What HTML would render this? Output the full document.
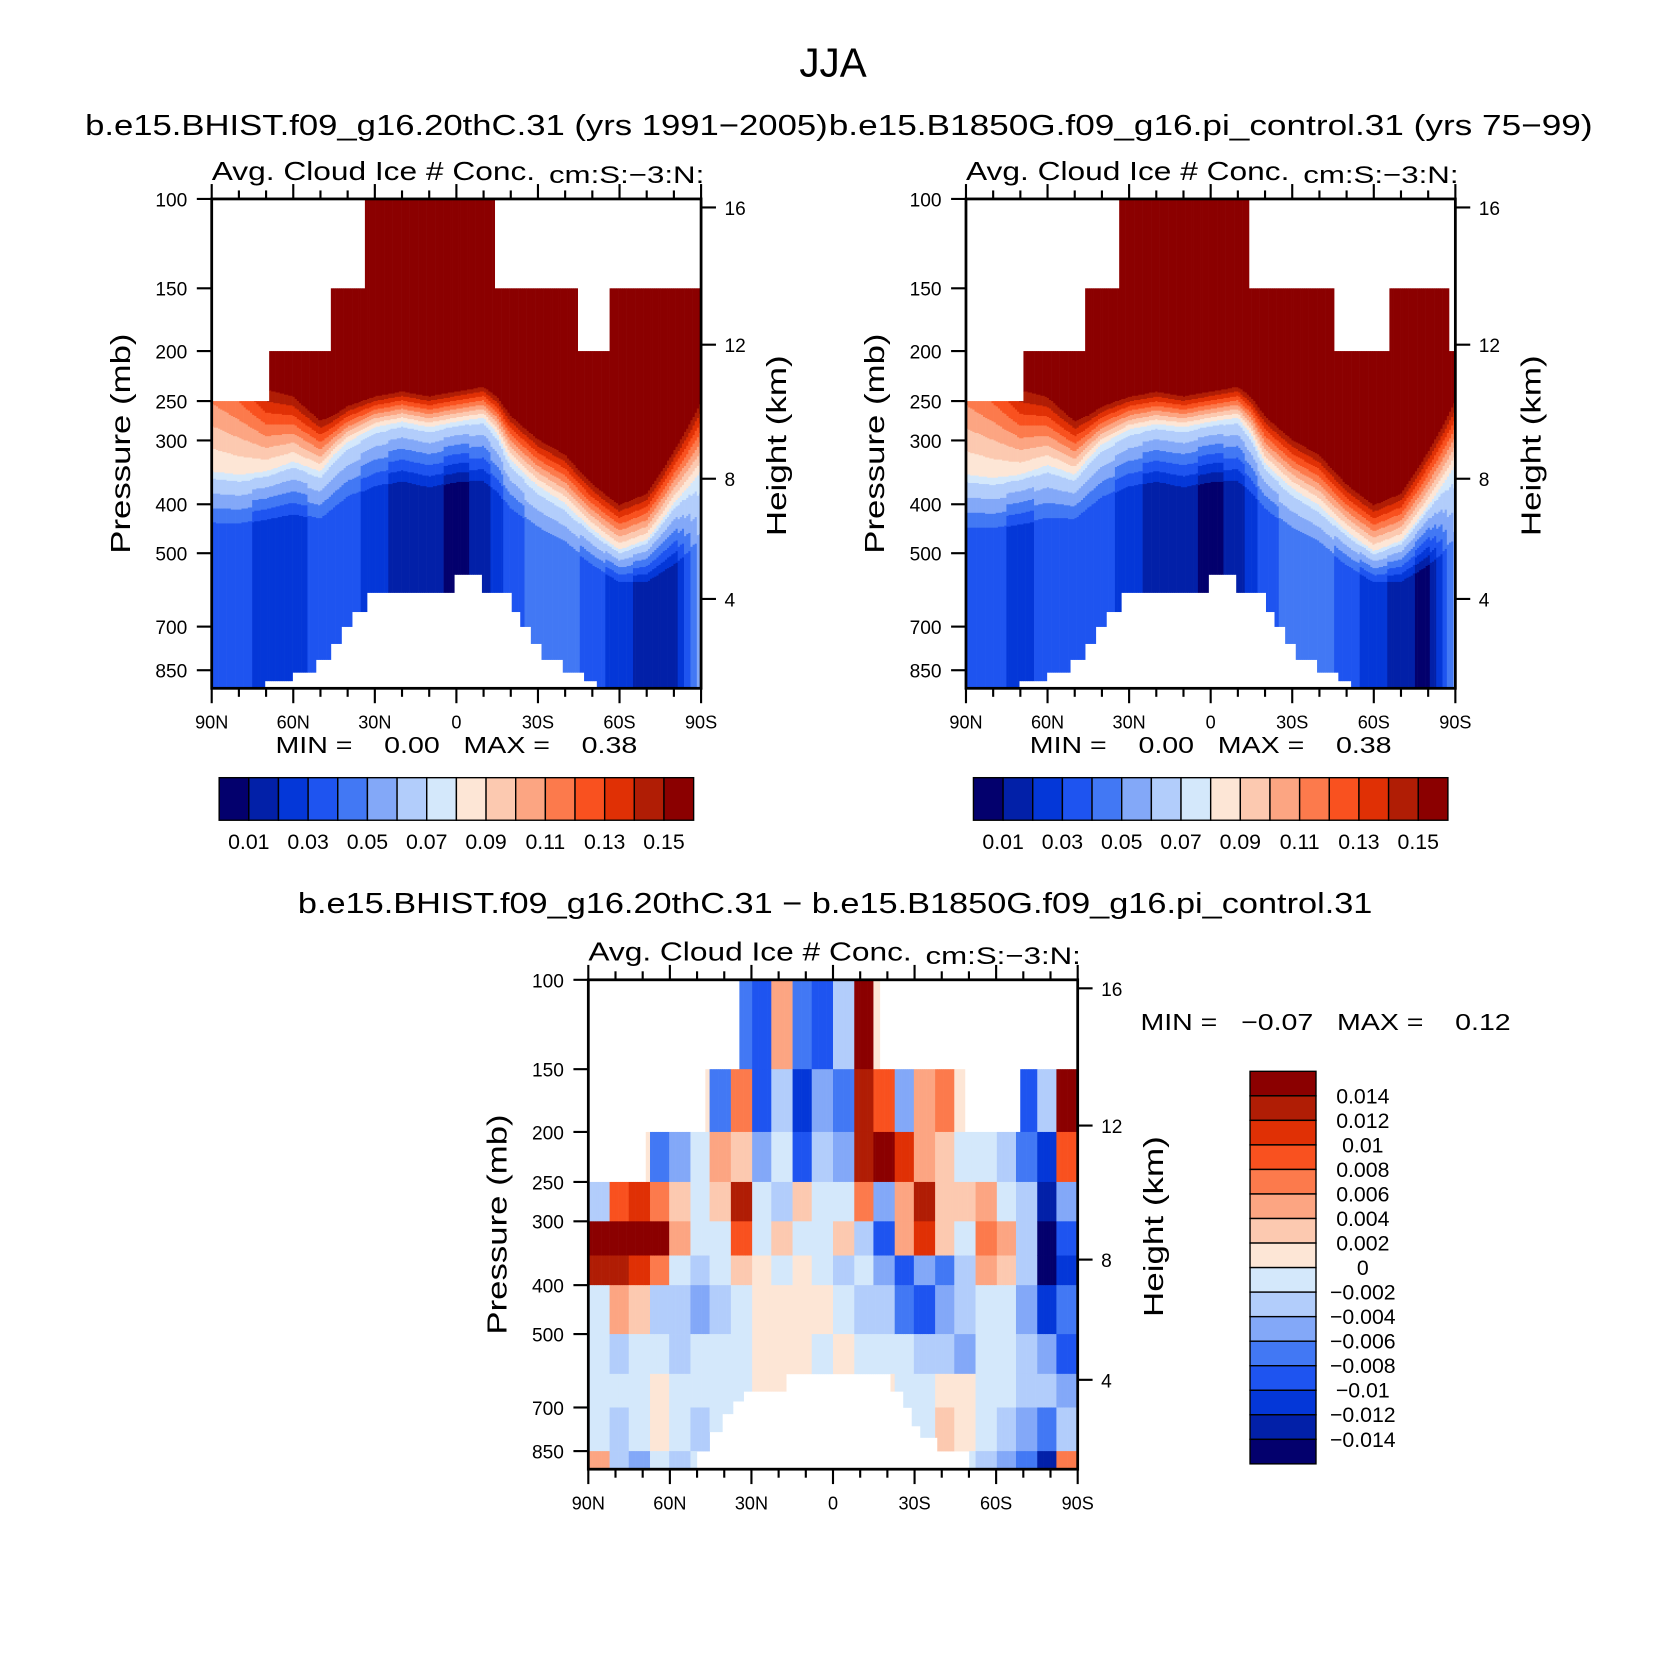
<!DOCTYPE html>
<html><head><meta charset="utf-8"><style>
html,body{margin:0;padding:0;background:#fff}
svg{display:block}
text{font-family:"Liberation Sans",sans-serif;fill:#000}
.pre{white-space:pre}
</style></head><body>
<svg id="root" width="1666" height="1666" viewBox="0 0 1566 1566" xmlns="http://www.w3.org/2000/svg">
<rect x="0" y="0" width="1566" height="1566" fill="#fff"/>
<text x="783" y="72" font-size="38" text-anchor="middle">JJA</text>
<text x="80" y="127" font-size="27" textLength="698" lengthAdjust="spacingAndGlyphs">b.e15.BHIST.f09_g16.20thC.31 (yrs 1991−2005)</text>
<text x="779" y="127" font-size="27" textLength="718" lengthAdjust="spacingAndGlyphs">b.e15.B1850G.f09_g16.pi_control.31 (yrs 75−99)</text>
<text x="280" y="858" font-size="27" textLength="1010" lengthAdjust="spacingAndGlyphs">b.e15.BHIST.f09_g16.20thC.31 − b.e15.B1850G.f09_g16.pi_control.31</text>
<g id="panels"></g>
</svg>
<script>
// ---- shared axis data ----
const pTicks=[100,150,200,250,300,400,500,700,850];
const latTicks=[90,60,30,0,-30,-60,-90];
const latLabels=['90N','60N','30N','0','30S','60S','90S'];
const hTicks=[16,12,8,4];
const topLevelLabels=['0.01','0.03','0.05','0.07','0.09','0.11','0.13','0.15'];
const diffLevelLabels=['0.014','0.012','0.01','0.008','0.006','0.004','0.002','0','−0.002','−0.004','−0.006','−0.008','−0.01','−0.012','−0.014'];
const palette=['#03006d','#0220a8','#0437d8','#1e54f0','#4278f4','#83a8f8','#b2cdfb','#d4e8fb','#fde6d6','#fcc9b0','#fca582','#fc7a4c','#f9511f','#e03005','#b01d05','#8b0000'];

// ---- panel 1 (20thC) data ----
const p1TopLats=[90,68.9,46.2,34,-13.7,-44.6,-56];
const p1TopP=[250,200,150,100,150,200,150];
const p1BotLats=[90,70.4,60,51.7,46,42.5,38,33,0.5,-9.4,-20,-23.4,-27.3,-31.3,-39,-46.6,-52];
const p1BotP=[1000,935,867,811,755,700,655,600,551,600,655,700,755,811,867,935,1000];
const profLats=[90,80,70,60,50,45,40,30,20,10,0,-10,-15,-20,-30,-40,-50,-60,-70,-80,-90];
const p1TransP=[345,350,345,330,345,320,302,282,275,282,275,270,290,328,368,398,448,492,470,398,345];
const p1DarkP=[150,180,225,235,265,260,250,240,235,240,235,230,240,260,290,310,355,390,370,305,240];
const p1FloorP=[450,450,440,430,440,420,400,380,370,380,370,370,390,420,460,490,540,580,580,540,500];
const p1FloorIdx=[3,3,2,2,3,3,3,2,1,1,0,1,2,3,4,4,3,2,1,1,5];

// ---- panel 2 (pi control) data ----
const p2TopLats=[90,68.9,46.2,34,-14,-45.6,-66,-88];
const p2TopP=[250,200,150,100,150,200,150,200];
const p2BotLats=[90,70.4,60,51.7,46,42.5,38,33,0.5,-9.4,-20,-23.4,-27.3,-31.3,-39,-46.6,-52];
const p2BotP=[1000,935,867,811,755,700,655,600,551,600,655,700,755,811,867,935,1000];
const p2TransP=[350,355,350,335,350,325,305,285,278,282,275,270,292,332,372,402,452,495,472,402,335];
const p2DarkP=[150,180,225,235,265,260,250,240,235,240,235,230,240,260,290,310,355,390,370,305,240];
const p2FloorP=[460,460,450,440,440,420,400,380,370,380,370,370,390,420,460,490,540,580,580,540,500];
const p2FloorIdx=[3,3,2,3,3,3,3,2,1,1,0,1,2,3,4,4,3,2,1,0,5];

// ---- difference panel data (units of 0.001) ----
const diffRowP=[100,150,200,250,300,350,400,500,600,700,850,1000];
const diffTopLats=[90,68.9,46.7,34.6,-17.5,-48.3,-69];
const diffTopP=[250,200,150,100,150,200,150];
const diffBotLats=[90,50.2,45.1,40.4,36.5,32.6,17,-21.3,-26,-29,-32,-38,-50];
const diffBotP=[1000,850,780,720,680,650,600,650,700,760,800,850,1000];
const diffRow0=[0,0,0,0,0,0,0,-8,-10,4,-8,-10,-4,16,0,0,0,0,0,0,0,0,0,0];
const diffRow1=[0,0,0,0,0,0,-8,6,-10,-4,-12,-6,-8,12,8,-6,4,6,0,0,0,-10,-4,16];
const diffRow2=[0,0,0,-8,-6,-2,4,2,-6,-2,-10,-4,-6,12,16,10,4,2,-2,-2,-4,-8,-12,8];
const diffRow3=[-4,8,10,6,2,-2,2,12,-2,-4,2,-2,-2,6,-6,4,12,2,2,4,-2,-4,-14,-6];
const diffRow4=[14,16,16,14,4,-2,-2,8,-2,2,-2,-2,2,-4,-10,4,10,2,-2,6,4,-4,-16,-10];
const diffRow5=[12,12,10,6,-1,-4,-2,2,1,-2,1,-2,-4,-2,-6,-10,-6,-8,-4,4,2,-4,-16,-12];
const diffRow6=[-2,4,2,-4,-4,-6,-4,-2,1,1,1,1,-2,-4,-4,-8,-10,-6,-4,-2,-2,-6,-12,-8];
const diffRow7=[-2,-4,-2,-2,-4,-2,-2,-2,1,1,1,-1,1,-2,-2,-2,-4,-4,-6,-2,-2,-4,-6,-10];
const diffRow8=[-2,-2,-1,1,-2,-1,-2,-1,1,1,1,1,1,1,1,-2,-1,1,1,-2,-2,-4,-4,-6];
const diffRow9=[-2,-4,-2,1,-2,-4,-2,-1,1,1,1,1,1,1,1,-1,-1,2,1,-2,-4,-6,-8,-4];
const diffRow10=[4,-4,-6,-2,-4,-2,-2,-1,1,1,1,1,1,1,1,-1,-1,1,-2,-4,-6,-8,-14,6];
const diffRows=[diffRow0,diffRow1,diffRow2,diffRow3,diffRow4,diffRow5,diffRow6,diffRow7,diffRow8,diffRow9,diffRow10];

// ---- axis helpers ----
const NS='http://www.w3.org/2000/svg';
const mapP=[100,150,200,250,300,400,500,700,850,1000];
const mapY=[0,84,143,190,227,287,333,402,443,460];
const hMapY=[8,137,263,376];
const W=460,H=460;
function yOfP(p){const lp=Math.log10(p);
 for(let i=0;i<mapP.length-1;i++){const a=Math.log10(mapP[i]),b=Math.log10(mapP[i+1]);
  if(lp<=b||i===mapP.length-2){return mapY[i]+(lp-a)/(b-a)*(mapY[i+1]-mapY[i]);}}}
function pOfY(y){for(let i=0;i<mapY.length-1;i++){if(y<=mapY[i+1]||i===mapY.length-2){
 const a=Math.log10(mapP[i]),b=Math.log10(mapP[i+1]);return Math.pow(10,a+(y-mapY[i])/(mapY[i+1]-mapY[i])*(b-a));}}}
function xOfLat(lat){return (90-lat)/180*W;}
function latOfX(x){return 90-x/W*180;}
function stepVal(lats,vals,lat){let v=vals[0];for(let i=0;i<lats.length;i++){if(lat<=lats[i])v=vals[i];}return v;}
function interp(lats,vals,lat){for(let i=0;i<lats.length-1;i++){if(lat<=lats[i]&&lat>=lats[i+1]){const f=(lats[i]-lat)/(lats[i]-lats[i+1]);return vals[i]+f*(vals[i+1]-vals[i]);}}return vals[vals.length-1];}
function mk(tag,attrs,parent){const e=document.createElementNS(NS,tag);for(const k in attrs)e.setAttribute(k,attrs[k]);parent.appendChild(e);return e;}

const panels=document.getElementById('panels');

function drawTopField(g,d){
 for(let sx=0;sx<W;sx+=2){
  const lat=latOfX(sx+1);
  const yT=Math.round(yOfP(stepVal(d.topLats,d.topP,lat)));
  const yB=Math.round(yOfP(stepVal(d.botLats,d.botP,lat)));
  const lt=Math.log10(interp(profLats,d.trans,lat)),ld=Math.log10(interp(profLats,d.dark,lat)),lf=Math.log10(interp(profLats,d.floor,lat));
  const fi=Math.round(interp(profLats,d.floorIdx,lat));
  let runStart=yT,runIdx=-1;
  for(let y=yT;y<=yB;y++){
   let idx;
   if(y<yB){const lp=Math.log10(pOfY(y+0.5));
    if(lp<=lt){const f=Math.min(1,Math.max(0,(lt-lp)/(lt-ld)));idx=Math.min(15,8+Math.floor(f*8));}
    else{const f=Math.min(1,Math.max(0,(lp-lt)/(lf-lt)));idx=Math.max(fi,Math.round(7-f*(7-fi)));}
   }else idx=-2;
   if(idx!==runIdx){
    if(runIdx>=0&&y>runStart){const r=mk('rect',{x:sx,y:runStart,width:2.3,height:y-runStart+0.3,fill:palette[runIdx]},g);
     
     }
    runStart=y;runIdx=idx;}
  }
 }
}

function drawDiffField(g){
 for(let sx=0;sx<W;sx+=2){
  const lat=latOfX(sx+1);
  const col=Math.min(23,Math.floor((90-lat)/7.5));
  const yT=yOfP(stepVal(diffTopLats,diffTopP,lat));
  const yB=yOfP(stepVal(diffBotLats,diffBotP,lat));
  for(let r=0;r<diffRows.length;r++){
   const y0=Math.max(yT,yOfP(diffRowP[r])),y1=Math.min(yB,yOfP(diffRowP[r+1]));
   if(y1<=y0)continue;
   const v=diffRows[r][col];
   const idx=Math.max(0,Math.min(15,Math.floor((v+14)/2)+1));
   const e=mk('rect',{x:sx,y:y0,width:2.3,height:y1-y0+0.3,fill:palette[idx]},g);
   
   
  }
 }
}

function drawAxes(g){
 const st={stroke:'#000','stroke-width':2.6,fill:'none'};
 const fr=mk('rect',Object.assign({x:0,y:0,width:W,height:H},st),g);
 
 
 for(let lat=90;lat>=-90;lat-=10){
  const x=xOfLat(lat),maj=(lat%30===0),L=maj?14:8;
  const t1=mk('line',{x1:x,y1:0,x2:x,y2:-L,stroke:'#000','stroke-width':2},g);
  
  
  const t2=mk('line',{x1:x,y1:H,x2:x,y2:H+L,stroke:'#000','stroke-width':2},g);
  
  
 }
 latTicks.forEach((lat,i)=>{
  const t=mk('text',{x:xOfLat(lat),y:H+38,'font-size':17,'text-anchor':'middle'},g);t.textContent=latLabels[i];
  
  
 });
 pTicks.forEach(p=>{
  const y=yOfP(p);
  const l=mk('line',{x1:0,y1:y,x2:-14,y2:y,stroke:'#000','stroke-width':2},g);
  
  
  const t=mk('text',{x:-23,y:y+7,'font-size':18,'text-anchor':'end'},g);t.textContent=p;
  
  
 });
 hTicks.forEach((h,i)=>{
  const y=hMapY[i];
  const l=mk('line',{x1:W,y1:y,x2:W+14,y2:y,stroke:'#000','stroke-width':2},g);
  
  
  const t=mk('text',{x:W+22,y:y+7,'font-size':18},g);t.textContent=h;
  
  
 });
 const yl=mk('text',{x:0,y:0,'font-size':26,'text-anchor':'middle',transform:'translate(-77,230) rotate(-90)',textLength:207,lengthAdjust:'spacingAndGlyphs'},g);yl.textContent='Pressure (mb)';
 
 
 const yr=mk('text',{x:0,y:0,'font-size':26,'text-anchor':'middle',transform:'translate(540,232) rotate(-90)',textLength:170,lengthAdjust:'spacingAndGlyphs'},g);yr.textContent='Height (km)';
 
 
 const a=mk('text',{x:0,y:-18,'font-size':24,textLength:304,lengthAdjust:'spacingAndGlyphs'},g);a.textContent='Avg. Cloud Ice # Conc.';
 
 
 const c=mk('text',{x:317,y:-15,'font-size':23,textLength:146,lengthAdjust:'spacingAndGlyphs'},g);c.textContent='cm:S:−3:N:';
 
 
}

function topPanel(x0,y0,d,name){
 const g=mk('g',{transform:`translate(${x0},${y0})`},panels);
 
 
 drawTopField(g,d);
 drawAxes(g);
 const m=mk('text',{x:60,y:H+61,'font-size':22,'class':'pre',textLength:340,lengthAdjust:'spacingAndGlyphs'},g);
 m.textContent='MIN =    0.00   MAX =    0.38';
 
 
 const cb=mk('g',{transform:`translate(7,${H+84})`},g);
 
 
 const bw=446/16;
 palette.forEach((c,i)=>{const r=mk('rect',{x:i*bw,y:0,width:bw,height:40,fill:c,stroke:'#000','stroke-width':1.3},cb);
  
  });
 topLevelLabels.forEach((s,i)=>{const t=mk('text',{x:(1+2*i)*bw,y:67,'font-size':20,'text-anchor':'middle'},cb);t.textContent=s;
  
  });
}

topPanel(199,187,{topLats:p1TopLats,topP:p1TopP,botLats:p1BotLats,botP:p1BotP,trans:p1TransP,dark:p1DarkP,floor:p1FloorP,floorIdx:p1FloorIdx},'panel-20thc');
topPanel(908,187,{topLats:p2TopLats,topP:p2TopP,botLats:p2BotLats,botP:p2BotP,trans:p2TransP,dark:p2DarkP,floor:p2FloorP,floorIdx:p2FloorIdx},'panel-pi-control');

// difference panel
const gd=mk('g',{transform:'translate(553,921)'},panels);


drawDiffField(gd);
drawAxes(gd);
const mm=mk('text',{x:519,y:47,'font-size':22,'class':'pre',textLength:348,lengthAdjust:'spacingAndGlyphs'},gd);
mm.textContent='MIN =   −0.07   MAX =    0.12';


const vcb=mk('g',{transform:'translate(622,86)'},gd);


const bh=369/16;
palette.slice().reverse().forEach((c,i)=>{const r=mk('rect',{x:0,y:i*bh,width:62,height:bh,fill:c,stroke:'#000','stroke-width':1.3},vcb);
 
 });
diffLevelLabels.forEach((s,i)=>{const t=mk('text',{x:106,y:(i+1)*bh+7,'font-size':20,'text-anchor':'middle'},vcb);t.textContent=s;
 
 });
</script>
</body></html>
